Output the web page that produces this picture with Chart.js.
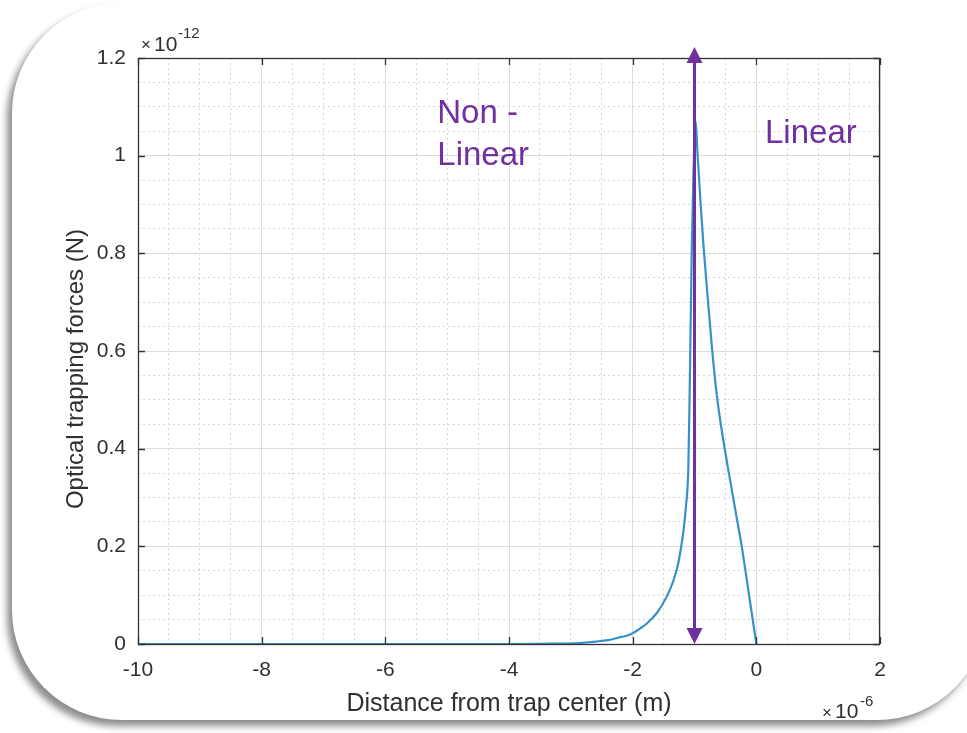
<!DOCTYPE html>
<html>
<head>
<meta charset="utf-8">
<script src="https://cdn.jsdelivr.net/npm/chart.js@4.4.0/dist/chart.umd.min.js"></script>
<style>
  html, body { margin: 0; padding: 0; background: #fff; width: 967px; height: 733px; overflow: hidden; }
  #card {
    position: absolute; left: 12px; top: 3px; width: 975px; height: 717px;
    background: #fff; border-radius: 110px;
    box-shadow: -5px 6px 7px rgba(0,0,0,0.45);
  }
  #mycanvas { position: absolute; left: 0; top: 0; }
</style>
</head>
<body>
<div id="card"></div>
<canvas id="mycanvas" width="967" height="733"></canvas>
<script>
// distance from trap center (x 1e-6 m)
var distance = [-10, -8, -6, -4, -3.5, -2.85, -2.6, -2.4, -2.2, -2.1, -2.0, -1.9, -1.77, -1.6, -1.45, -1.34, -1.26, -1.18, -1.14, -1.1, -1.08, -1.045, -1.02, -0.98, -0.954, -0.9, -0.857, -0.8, -0.72, -0.64, -0.55, -0.425, -0.3, -0.236, -0.1, 0];
// optical trapping force (x 1e-12 N)
var force = [0, 0, 0, 0, 0.0005, 0.002, 0.005, 0.008, 0.014, 0.017, 0.022, 0.03, 0.042, 0.065, 0.097, 0.13, 0.167, 0.23, 0.28, 0.36, 0.5, 0.8, 0.95, 1.07, 1.01, 0.9, 0.82, 0.73, 0.61, 0.51, 0.43, 0.336, 0.246, 0.2, 0.085, 0];

var xTicks = [-10, -8, -6, -4, -2, 0, 2];
var yTicks = [0, 0.2, 0.4, 0.6, 0.8, 1, 1.2];
var arrowX = -1;
var labels = [
  { text: "Non -", x: -5.16, y: 1.085 },
  { text: "Linear", x: -5.16, y: 1.0 },
  { text: "Linear", x: 0.14, y: 1.045 }
];
var yTitle = "Optical trapping forces (N)";

var purple = "#7030a0";
var fontFam = "'Liberation Sans', Arial, sans-serif";
var textCol = "#303030";

var points = [];
for (var i in distance) {
  points.push({ x: distance[i], y: force[i] });
}

var extras = {
  id: "extras",
  afterDraw: function(chart) {
    var ctx = chart.ctx;
    var a = chart.chartArea;
    var xs = chart.scales.x, ys = chart.scales.y;
    ctx.save();
    // box
    ctx.strokeStyle = "#333";
    ctx.lineWidth = 1.3;
    ctx.strokeRect(a.left + 0.5, a.top + 0.5, a.right - a.left - 1, a.bottom - a.top);
    // inward ticks
    ctx.beginPath();
    xTicks.forEach(function(v) {
      var px = Math.round(xs.getPixelForValue(v)) + 0.5;
      ctx.moveTo(px, a.bottom); ctx.lineTo(px, a.bottom - 7);
      ctx.moveTo(px, a.top); ctx.lineTo(px, a.top + 7);
    });
    yTicks.forEach(function(v) {
      var py = Math.round(ys.getPixelForValue(v)) + 0.5;
      ctx.moveTo(a.left, py); ctx.lineTo(a.left + 7, py);
      ctx.moveTo(a.right, py); ctx.lineTo(a.right - 7, py);
    });
    ctx.stroke();

    // y title (MATLAB places it a bit below the axis centre here)
    ctx.fillStyle = textCol;
    ctx.save();
    ctx.translate(76, 369);
    ctx.rotate(-Math.PI / 2);
    ctx.font = "24px " + fontFam;
    ctx.textAlign = "center";
    ctx.textBaseline = "middle";
    ctx.fillText(yTitle, 0, 0);
    ctx.restore();

    // exponent labels
    ctx.textBaseline = "alphabetic";
    ctx.textAlign = "left";
    ctx.font = "17px " + fontFam;
    ctx.fillText("\u00d7", a.left + 3, a.top - 8);
    ctx.font = "21px " + fontFam;
    ctx.fillText("10", a.left + 16, a.top - 7);
    ctx.font = "15px " + fontFam;
    ctx.fillText("-12", a.left + 40, a.top - 20);

    ctx.font = "17px " + fontFam;
    ctx.fillText("\u00d7", 822, 718);
    ctx.font = "21px " + fontFam;
    ctx.fillText("10", 835, 718);
    ctx.font = "15px " + fontFam;
    ctx.fillText("-6", 860, 706);

    // double arrow
    var ax = xs.getPixelForValue(arrowX);
    var yTop = ys.getPixelForValue(1.2) - 11;
    var yBot = ys.getPixelForValue(0);
    ctx.strokeStyle = purple;
    ctx.fillStyle = purple;
    ctx.lineWidth = 3;
    ctx.beginPath();
    ctx.moveTo(ax, yTop + 12); ctx.lineTo(ax, yBot - 12);
    ctx.stroke();
    ctx.beginPath();
    ctx.moveTo(ax, yTop); ctx.lineTo(ax - 8, yTop + 16); ctx.lineTo(ax + 8, yTop + 16); ctx.closePath();
    ctx.fill();
    ctx.beginPath();
    ctx.moveTo(ax, yBot); ctx.lineTo(ax - 8, yBot - 16); ctx.lineTo(ax + 8, yBot - 16); ctx.closePath();
    ctx.fill();

    // region labels
    ctx.font = "33px " + fontFam;
    ctx.textBaseline = "middle";
    labels.forEach(function(l) {
      ctx.fillText(l.text, xs.getPixelForValue(l.x), ys.getPixelForValue(l.y));
    });
    ctx.restore();
  }
};

var chartdata = {
  datasets: [
    {
      label: "force",
      data: points,
      borderColor: "#3591c8",
      borderWidth: 2.2,
      fill: false,
      pointRadius: 0,
      cubicInterpolationMode: "monotone"
    }
  ]
};

var ctx = document.getElementById("mycanvas");

var LineGraph = new Chart(ctx, {
  type: "line",
  data: chartdata,
  plugins: [extras],
  options: {
    responsive: false,
    animation: false,
    layout: { padding: { left: 56, top: 58, right: 87, bottom: 12 } },
    plugins: { legend: { display: false }, tooltip: { enabled: false } },
    scales: {
      xm: {
        type: "linear", position: "bottom", min: -10, max: 2,
        ticks: { display: false, stepSize: 0.5 },
        grid: { color: "#d6d6d6", drawTicks: false, lineWidth: 1 },
        border: { display: false, dash: [2, 3] },
        afterFit: function(s) { s.height = 0; }
      },
      ym: {
        type: "linear", position: "left", min: 0, max: 1.2,
        ticks: { display: false, stepSize: 0.05 },
        grid: { color: "#d6d6d6", drawTicks: false, lineWidth: 1 },
        border: { display: false, dash: [2, 3] },
        afterFit: function(s) { s.width = 0; }
      },
      x: {
        type: "linear", position: "bottom", min: -10, max: 2,
        afterBuildTicks: function(s) { s.ticks = xTicks.map(function(v) { return { value: v }; }); },
        ticks: { color: textCol, font: { size: 21, family: fontFam }, padding: 14, maxRotation: 0 },
        grid: { color: "#dcdcdc", drawTicks: false },
        border: { display: false },
        title: { display: true, text: "Distance from trap center (m)", color: textCol, font: { size: 25, family: fontFam }, padding: { top: 0, bottom: 2 } },
        afterFit: function(s) { s.height = 77; }
      },
      y: {
        type: "linear", position: "left", min: 0, max: 1.2,
        afterBuildTicks: function(s) { s.ticks = yTicks.map(function(v) { return { value: v }; }); },
        ticks: {
          color: textCol, font: { size: 21, family: fontFam }, padding: 12,
          callback: function(v) { return String(Number(v.toFixed(1))); }
        },
        grid: { color: "#dcdcdc", drawTicks: false },
        border: { display: false },
        title: { display: false },
        afterFit: function(s) { s.width = 82; }
      }
    }
  }
});
</script>
</body>
</html>
